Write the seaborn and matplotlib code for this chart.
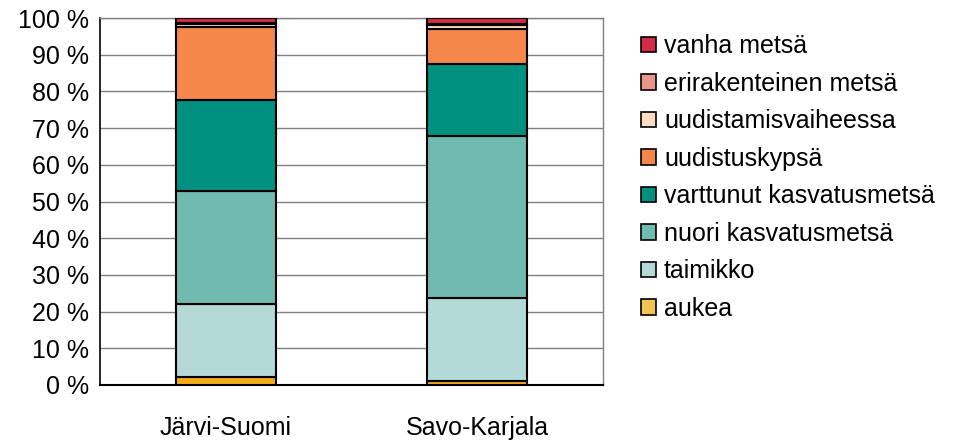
import numpy as np
import pandas as pd
import matplotlib
matplotlib.use("Agg")
import matplotlib.pyplot as plt
import seaborn as sns
from matplotlib.patches import Patch
from matplotlib.ticker import MultipleLocator, FuncFormatter

sns.set_style("white")
plt.rcParams['font.family'] = ['Liberation Sans', 'DejaVu Sans']
plt.rcParams['text.color'] = 'black'
plt.rcParams['xtick.color'] = 'black'
plt.rcParams['ytick.color'] = 'black'

regions = ['Järvi-Suomi', 'Savo-Karjala']
classes = ['aukea', 'taimikko', 'nuori kasvatusmetsä', 'varttunut kasvatusmetsä',
           'uudistuskypsä', 'uudistamisvaiheessa', 'erirakenteinen metsä', 'vanha metsä']
jarvi_suomi = [2.2, 19.8, 31.0, 24.7, 19.8, 1.0, 0.3, 1.2]
savo_karjala = [1.0, 22.7, 44.1, 19.7, 9.5, 1.0, 0.3, 1.7]
colors = ['#f2ab1c', '#b3dad6', '#70bab0', '#009080',
          '#f5874a', '#fddcc4', '#e8968a', '#d42a45']
legend_colors = ['#f0c455', '#b3dad6', '#70bab0', '#009080',
                 '#f5874a', '#fddcc4', '#e8968a', '#d42a45']

df = pd.DataFrame({'luokka': classes, regions[0]: jarvi_suomi, regions[1]: savo_karjala})

fig = plt.figure(figsize=(9.64, 4.42), dpi=100)
ax = fig.add_axes([0.104, 0.129, 0.521, 0.830])

bottom = np.zeros(len(regions))
for i, row in df.iterrows():
    vals = np.array([row[r] for r in regions])
    sns.barplot(x=regions, y=vals, bottom=bottom, color=colors[i], width=0.4,
                edgecolor='black', linewidth=1.5, saturation=1, ax=ax, zorder=3)
    bottom = bottom + vals

ax.set_ylim(0, 100)
ax.set_xlim(-0.5, 1.5)
ax.yaxis.set_major_locator(MultipleLocator(10))
ax.yaxis.set_major_formatter(FuncFormatter(lambda v, p: f'{int(v)} %'))
ax.grid(axis='y', color='#808080', linewidth=1, zorder=0)
ax.set_axisbelow(True)
for s in ['top', 'right']:
    ax.spines[s].set_color('#808080')
    ax.spines[s].set_linewidth(1)
ax.spines['left'].set_color('black')
ax.spines['left'].set_linewidth(1.2)
ax.spines['bottom'].set_color('black')
ax.spines['bottom'].set_linewidth(1.5)
ax.tick_params(axis='y', labelsize=18, length=4, width=1, direction='out', pad=4,
               color='black', labelcolor='black')
ax.tick_params(axis='x', labelsize=18, length=0, pad=22, labelcolor='black')
ax.set_xlabel('')
ax.set_ylabel('')

handles = [Patch(facecolor=legend_colors[i], edgecolor='black', linewidth=1.2, label=classes[i])
           for i in range(len(classes))][::-1]
fig.legend(handles=handles, loc='upper left', bbox_to_anchor=(0.655, 0.945), frameon=False,
           fontsize=18, handlelength=0.6, handleheight=0.6, handletextpad=0.3,
           labelspacing=0.54, borderaxespad=0, labelcolor='black')

fig.savefig('out.png', dpi=100)
